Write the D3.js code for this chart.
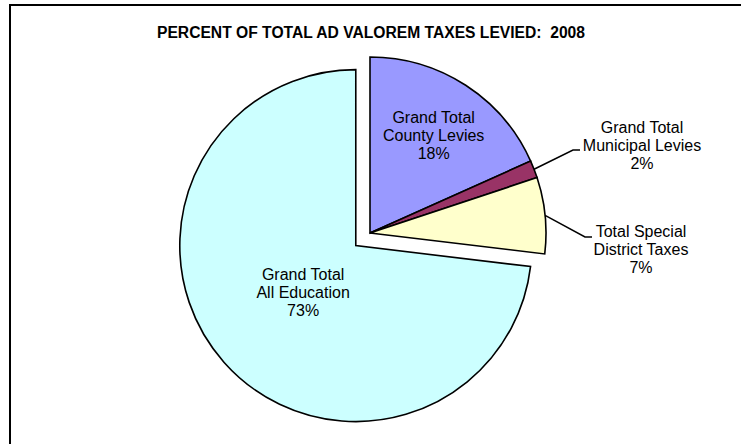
<!DOCTYPE html>
<html>
<head>
<meta charset="utf-8">
<script src="https://cdn.jsdelivr.net/npm/d3@7"></script>
<style>
  html, body { margin: 0; padding: 0; background: #fff; }
  svg { display: block; }
  text { font-family: "Liberation Sans", Arial, sans-serif; fill: #000; }
</style>
</head>
<body>
<svg id="chart" width="741" height="444"></svg>
<script>
// Share of total ad valorem taxes levied, 2008 (percent)
const categories = [
  "Grand Total County Levies",
  "Grand Total Municipal Levies",
  "Total Special District Taxes",
  "Grand Total All Education"
];
const shares = [18.3, 1.6, 7.0, 73.1];
const labelLines = [
  ["Grand Total", "County Levies"],
  ["Grand Total", "Municipal Levies"],
  ["Total Special", "District Taxes"],
  ["Grand Total", "All Education"]
];
const sliceColors = ["#9999FF", "#993366", "#FFFFCC", "#CCFFFF"];
const titleText = "PERCENT OF TOTAL AD VALOREM TAXES LEVIED:  2008";

const svg = d3.select("#chart");
const W = 741, H = 444;

// chart frame (continues past the right and bottom edges)
svg.append("rect")
  .attr("x", 10).attr("y", 5)
  .attr("width", W + 20).attr("height", H + 20)
  .attr("fill", "#fff")
  .attr("stroke", "#000")
  .attr("stroke-width", 2);

svg.append("text")
  .attr("x", 371).attr("y", 38)
  .attr("text-anchor", "middle")
  .attr("font-size", 16)
  .attr("font-weight", "bold")
  .attr("textLength", 428)
  .attr("lengthAdjust", "spacingAndGlyphs")
  .style("white-space", "pre")
  .text(titleText);

const cx = 370, cy = 233, R = 176;
const explode = [0, 0, 0, 19];

const pie = d3.pie().sort(null).value(d => d)
  .startAngle(0).endAngle(2 * Math.PI);
const arcs = pie(shares);
const arc = d3.arc().innerRadius(0).outerRadius(R);

const g = svg.append("g").attr("transform", `translate(${cx},${cy})`);

function offsetOf(a, i) {
  const mid = (a.startAngle + a.endAngle) / 2;
  return [Math.sin(mid) * explode[i], -Math.cos(mid) * explode[i]];
}

g.selectAll("path.slice")
  .data(arcs)
  .join("path")
  .attr("class", "slice")
  .attr("d", arc)
  .attr("transform", (a, i) => { const o = offsetOf(a, i); return `translate(${o[0]},${o[1]})`; })
  .attr("fill", (a, i) => sliceColors[i])
  .attr("stroke", "#000")
  .attr("stroke-width", 1.6)
  .attr("stroke-linejoin", "miter");

// label placement: inside labels sit on a radius fraction, outside ones use leader lines
const placement = [
  { inside: true, rFrac: 0.665 },
  { inside: false, elbow: [573, 150], end: [580, 150], text: [642, 133] },
  { inside: false, elbow: [585, 237], end: [592, 237], text: [641, 237] },
  { inside: true, rFrac: 0.40 }
];
const lineGap = 18;

arcs.forEach((a, i) => {
  const p = placement[i];
  const pct = Math.round(a.data) + "%";
  const lines = labelLines[i].concat([pct]);
  const mid = (a.startAngle + a.endAngle) / 2;
  const o = offsetOf(a, i);
  let tx, ty;
  if (p.inside) {
    const r = R * p.rFrac;
    const x = cx + o[0] + Math.sin(mid) * r;
    const y = cy + o[1] - Math.cos(mid) * r;
    tx = x;
    ty = y - lineGap + 6;
  } else {
    const sx = cx + Math.sin(mid) * R;
    const sy = cy - Math.cos(mid) * R;
    svg.append("polyline")
      .attr("points", [[sx, sy], p.elbow, p.end].map(q => q.join(",")).join(" "))
      .attr("fill", "none")
      .attr("stroke", "#000")
      .attr("stroke-width", 1.5);
    tx = p.text[0];
    ty = p.text[1];
  }
  const t = svg.append("text")
    .attr("text-anchor", "middle")
    .attr("font-size", 16);
  lines.forEach((s, k) => {
    t.append("tspan").attr("x", tx).attr("y", ty + k * lineGap).text(s);
  });
});
</script>
</body>
</html>
